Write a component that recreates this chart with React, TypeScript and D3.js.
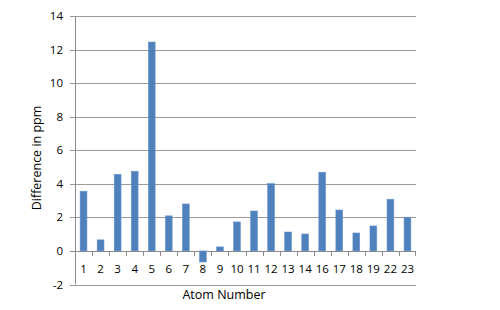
import React from "react";
import * as d3 from "d3";

const categories = ["1","2","3","4","5","6","7","8","9","10","11","12","13","14","16","17","18","19","22","23"];
const values = [3.56,0.66,4.57,4.75,12.45,2.09,2.8,-0.66,0.24,1.73,2.38,4.01,1.13,1.01,4.69,2.44,1.07,1.49,3.08,2.01];
const yTicks = [-2,0,2,4,6,8,10,12,14];

const W = 500, H = 310;
const left = 75, right = 416, top = 16, bottom = 284.5;

export default function App() {
  const x = d3.scaleBand<string>().domain(categories).range([left, right]).paddingInner(0).paddingOuter(0);
  const y = d3.scaleLinear().domain([-2, 14]).range([bottom, top]);
  const bw = x.bandwidth() / 2.5;
  const font = "'Open Sans', 'Liberation Sans', sans-serif";
  return (
    <svg width={W} height={H} style={{ position: "absolute", left: 0, top: 0, background: "#fff" }}>
      {yTicks.map(t => (
        <g key={t}>
          <line x1={left - 5} x2={right} y1={Math.round(y(t)) + 0.5} y2={Math.round(y(t)) + 0.5} stroke={t === 0 ? "#8a8a8a" : "#9a9a9a"} strokeWidth={1} />
          <text x={63} y={y(t)} dy="0.35em" textAnchor="end" fontSize={11.5} fontFamily={font} fill="#000">{t}</text>
        </g>
      ))}
      <line x1={left + 0.5} x2={left + 0.5} y1={top} y2={bottom} stroke="#8a8a8a" />
      {categories.map((c, i) => {
        const v = values[i];
        const bx = (x(c) as number) + (x.bandwidth() - bw) / 2;
        return (
          <rect key={c} x={bx} width={bw} y={y(Math.max(0, v))} height={Math.abs(y(v) - y(0))} fill="#4f81bd" stroke="#6a96cc" strokeWidth={0.6} />
        );
      })}
      {categories.map((c) => (
        <line key={"t" + c} x1={Math.round(x(c) as number) + 0.5} x2={Math.round(x(c) as number) + 0.5} y1={y(0)} y2={y(0) + 5} stroke="#8a8a8a" />
      ))}
      <line x1={right - 0.5} x2={right - 0.5} y1={y(0)} y2={y(0) + 5} stroke="#8a8a8a" />
      {categories.map(c => (
        <text key={"l" + c} x={(x(c) as number) + x.bandwidth() / 2} y={269} dy="0.35em" textAnchor="middle" fontSize={11.5} fontFamily={font} fill="#000">{c}</text>
      ))}
      <text x={224} y={295} dy="0.35em" textAnchor="middle" fontSize={12.5} fontFamily={font} fill="#000">Atom Number</text>
      <text transform={`translate(37,158) rotate(-90)`} dy="0.35em" textAnchor="middle" fontSize={12.5} fontFamily={font} fill="#000">Difference in ppm</text>
    </svg>
  );
}
